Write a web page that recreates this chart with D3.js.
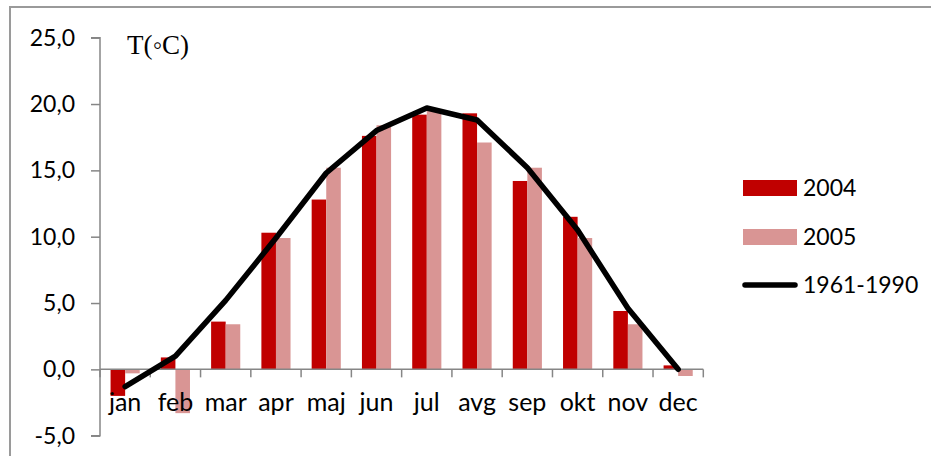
<!DOCTYPE html>
<html><head><meta charset="utf-8">
<script src="https://cdn.jsdelivr.net/npm/d3@7"></script>
<style>body{margin:0;background:#fff}svg{display:block}</style>
</head><body>
<svg id="c" width="931" height="456"></svg>
<script>
const months = ["jan","feb","mar","apr","maj","jun","jul","avg","sep","okt","nov","dec"];
const series = ["2004","2005"];
const t2004 = [-2.0, 0.9, 3.6, 10.3, 12.8, 17.6, 19.2, 19.3, 14.2, 11.5, 4.4, 0.3];
const t2005 = [-0.3, -3.3, 3.4, 9.9, 15.2, 18.4, 19.6, 17.1, 15.2, 9.9, 3.4, -0.5];
const norm = [-1.3, 1.0, 5.2, 9.9, 14.8, 18.0, 19.7, 18.8, 15.2, 10.5, 4.6, 0.0];
const lineName = "1961-1990";
const yTicks = [-5, 0, 5, 10, 15, 20, 25];
const unitLabel = "T(\u25E6C)";
const colors = {"2004": "#C00000", "2005": "#D99594"};

const svg = d3.select("#c");
const font = "Lato, 'Open Sans', sans-serif";
const axisColor = "#868686";

// chart border
svg.append("rect").attr("x", 10).attr("y", 7).attr("width", 1000).attr("height", 600)
  .attr("fill", "none").attr("stroke", "#9a9a9a").attr("stroke-width", 2);

const x0 = d3.scaleBand().domain(months).range([100, 703.3]).padding(0);
const x1 = d3.scaleBand().domain(series).range([0, x0.bandwidth()]).paddingInner(0).paddingOuter(0.725);
const y = d3.scaleLinear().domain([-5, 25]).range([435.7, 37.7]);

const data = {"2004": t2004, "2005": t2005};

// bars
series.forEach(s => {
  svg.append("g").selectAll("rect").data(months).join("rect")
    .attr("x", (m) => x0(m) + x1(s))
    .attr("width", x1.bandwidth())
    .attr("y", (m, i) => y(Math.max(0, data[s][i])))
    .attr("height", (m, i) => Math.abs(y(data[s][i]) - y(0)))
    .attr("fill", colors[s]);
});

// y axis
const yAxis = d3.axisLeft(y).tickValues(yTicks).tickSize(9).tickPadding(16)
  .tickFormat(d => d.toFixed(1).replace(".", ","));
const gy = svg.append("g").attr("transform", "translate(100,0)").call(yAxis);
gy.select(".domain").attr("stroke", axisColor).attr("stroke-width", 1.5).attr("d", `M-9,${y(25)}H0V${y(-5)}H-9`);
gy.selectAll(".tick line").attr("stroke", axisColor).attr("stroke-width", 1.5);
gy.selectAll(".tick text").attr("font-family", font).attr("font-size", 23).attr("fill", "#000");

// x axis at 0
const gx = svg.append("g").attr("transform", `translate(0,${y(0)})`);
gx.append("line").attr("x1", 100).attr("x2", 703.3).attr("stroke", axisColor).attr("stroke-width", 1.5);
const bounds = months.map(m => x0(m)).concat([703.3]);
gx.selectAll("line.t").data(bounds).join("line").attr("class", "t")
  .attr("x1", d => d).attr("x2", d => d).attr("y1", 0).attr("y2", 8)
  .attr("stroke", axisColor).attr("stroke-width", 1.5);
svg.append("g").selectAll("text").data(months).join("text")
  .attr("x", m => x0(m) + x0.bandwidth() / 2).attr("y", 411)
  .attr("text-anchor", "middle").attr("font-family", font).attr("font-size", 25)
  .text(m => m);

// line
const line = d3.line().x((d, i) => x0(months[i]) + x0.bandwidth() / 2).y(d => y(d));
svg.append("path").datum(norm).attr("d", line).attr("fill", "none")
  .attr("stroke", "#000").attr("stroke-width", 5.5).attr("stroke-linejoin", "round").attr("stroke-linecap", "round");

// unit label
svg.append("text").attr("x", 127).attr("y", 53.5).attr("font-family", "'Liberation Serif', 'Times New Roman', serif")
  .attr("font-size", 27).text(unitLabel);

// legend
const lg = svg.append("g");
const ly = [188, 237, 285];
series.forEach((s, i) => {
  lg.append("rect").attr("x", 743).attr("y", ly[i] - 8).attr("width", 54).attr("height", 16).attr("fill", colors[s]);
  lg.append("text").attr("x", 803).attr("y", ly[i]).attr("dy", "0.35em").attr("font-family", font).attr("font-size", 23).text(s);
});
lg.append("line").attr("x1", 745).attr("x2", 795).attr("y1", ly[2]).attr("y2", ly[2])
  .attr("stroke", "#000").attr("stroke-width", 5.5).attr("stroke-linecap", "round");
lg.append("text").attr("x", 803).attr("y", ly[2]).attr("dy", "0.35em").attr("font-family", font).attr("font-size", 23).text(lineName);
</script>
</body></html>
